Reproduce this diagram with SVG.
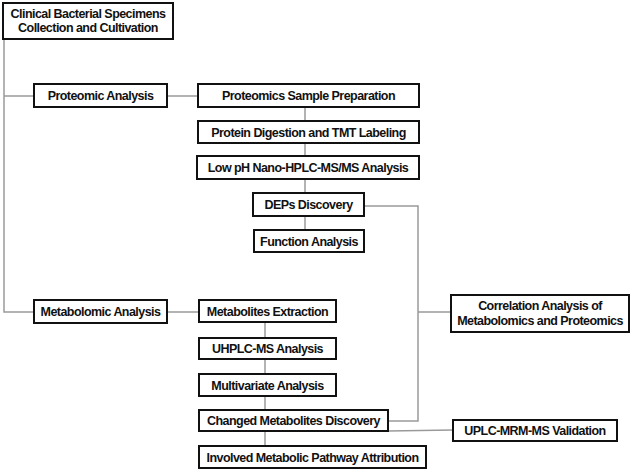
<svg xmlns="http://www.w3.org/2000/svg" width="634" height="473" viewBox="0 0 634 473">
<style>
.box{fill:#fff;stroke:#111;stroke-width:2}
.t{font-family:"Liberation Sans",Arial,sans-serif;font-weight:bold;font-size:12.5px;letter-spacing:-0.55px;fill:#111;text-anchor:middle}
.c{fill:none;stroke:#9a9a9a;stroke-width:1.5}
</style>
<rect width="634" height="473" fill="#fff"/>
<g id="connectors">
<polyline class="c" points="4,39 4,312 34,312"/>
<line class="c" x1="4" y1="96" x2="34" y2="96"/>
<line class="c" x1="167" y1="96" x2="198" y2="96"/>
<line class="c" x1="305" y1="107" x2="305" y2="121"/>
<line class="c" x1="305" y1="143" x2="305" y2="156"/>
<line class="c" x1="305" y1="179" x2="305" y2="193"/>
<line class="c" x1="305" y1="216" x2="305" y2="230"/>
<line class="c" x1="167" y1="312" x2="199" y2="312"/>
<line class="c" x1="265" y1="322" x2="265" y2="338"/>
<line class="c" x1="265" y1="359" x2="265" y2="374"/>
<line class="c" x1="265" y1="396" x2="265" y2="410"/>
<line class="c" x1="265" y1="431" x2="265" y2="446"/>
<polyline class="c" points="364,206 418,206 418,421 388,421"/>
<line class="c" x1="418" y1="312" x2="451" y2="312"/>
<line class="c" x1="388" y1="431" x2="453" y2="430"/>
</g>
<g id="clinical"><rect class="box" x="3" y="3" width="170" height="36"/><text class="t" x="88" y="18">Clinical Bacterial Specimens</text><text class="t" x="88" y="32">Collection and Cultivation</text></g>
<g id="proteomic"><rect class="box" x="34" y="84" width="133" height="23"/><text class="t" x="100.5" y="100">Proteomic Analysis</text></g>
<g id="prep"><rect class="box" x="198" y="84" width="221" height="23"/><text class="t" x="308.5" y="100">Proteomics Sample Preparation</text></g>
<g id="digest"><rect class="box" x="198" y="121" width="221" height="22"/><text class="t" x="308.5" y="136.5">Protein Digestion and TMT Labeling</text></g>
<g id="lowph"><rect class="box" x="197" y="156" width="222" height="23"/><text class="t" x="308" y="172">Low pH Nano-HPLC-MS/MS Analysis</text></g>
<g id="deps"><rect class="box" x="253" y="193" width="111" height="23"/><text class="t" x="308.5" y="209">DEPs Discovery</text></g>
<g id="function"><rect class="box" x="254" y="230" width="110" height="22"/><text class="t" x="309" y="245.5">Function Analysis</text></g>
<g id="metabolomic"><rect class="box" x="34" y="300" width="133" height="23"/><text class="t" x="100.5" y="316">Metabolomic Analysis</text></g>
<g id="extraction"><rect class="box" x="199" y="300" width="137" height="22"/><text class="t" x="267.5" y="315.5">Metabolites Extraction</text></g>
<g id="uhplc"><rect class="box" x="199" y="338" width="137" height="21"/><text class="t" x="267.5" y="353">UHPLC-MS Analysis</text></g>
<g id="multivariate"><rect class="box" x="199" y="374" width="137" height="22"/><text class="t" x="267.5" y="389.5">Multivariate Analysis</text></g>
<g id="changed"><rect class="box" x="199" y="410" width="189" height="21"/><text class="t" x="293.5" y="425">Changed Metabolites Discovery</text></g>
<g id="involved"><rect class="box" x="199" y="446" width="227" height="22"/><text class="t" x="312.5" y="461.5">Involved Metabolic Pathway Attribution</text></g>
<g id="correlation"><rect class="box" x="451" y="295" width="178" height="37"/><text class="t" x="540" y="310">Correlation Analysis of</text><text class="t" x="540" y="324.5">Metabolomics and Proteomics</text></g>
<g id="uplc"><rect class="box" x="453" y="420" width="164" height="21"/><text class="t" x="535" y="435">UPLC-MRM-MS Validation</text></g>
</svg>
